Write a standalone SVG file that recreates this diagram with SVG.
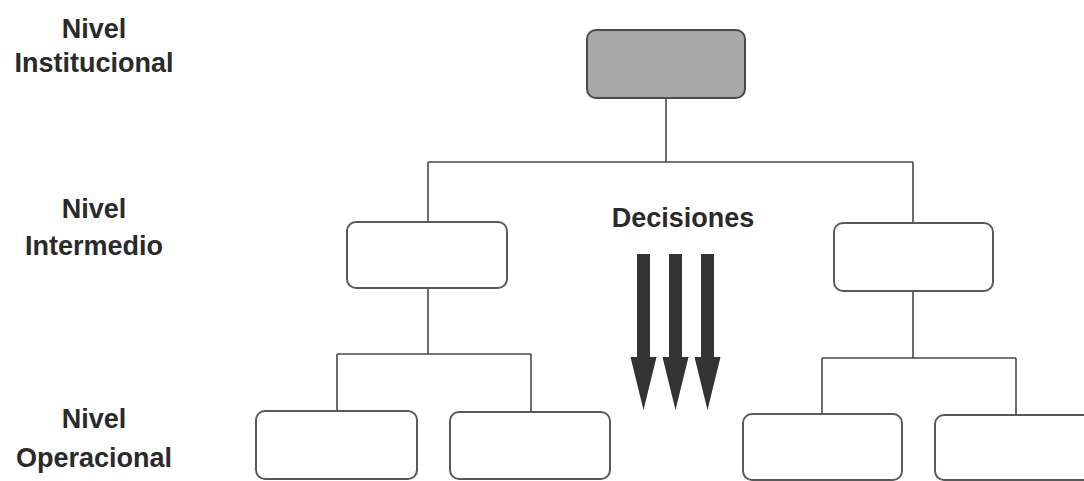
<svg xmlns="http://www.w3.org/2000/svg" width="1084" height="481" viewBox="0 0 1084 481">
  <style>
    .lbl { font-family: "Liberation Sans", Arial, sans-serif; font-weight: bold; font-size: 27px; fill: #2a2a2a; text-anchor: middle; }
    .box { fill: #ffffff; stroke: #5a5a5a; stroke-width: 2; }
    .top { fill: #a9a9a9; stroke: #4a4a4a; stroke-width: 2; }
    .wire { fill: none; stroke: #4a4a4a; stroke-width: 1.6; }
    .arrow { fill: #333333; }
  </style>
  <defs>
    <path id="downArrow" d="M -6.5 0 H 6.5 V 103 H 13 L 0 156 L -13 103 H -6.5 Z"/>
  </defs>
  <rect width="1084" height="481" fill="#ffffff"/>

  <!-- level labels -->
  <g id="level-labels">
    <text class="lbl" x="94" y="38">Nivel</text>
    <text class="lbl" x="94" y="72">Institucional</text>
    <text class="lbl" x="94" y="218">Nivel</text>
    <text class="lbl" x="94" y="255">Intermedio</text>
    <text class="lbl" x="94" y="428">Nivel</text>
    <text class="lbl" x="94" y="467">Operacional</text>
  </g>

  <!-- connectors -->
  <g id="connectors" class="wire">
    <path d="M 666 98 V 162 M 428 162 H 913 M 428 162 V 222 M 913 162 V 223"/>
    <path d="M 428 288 V 354 M 337 354 H 531 M 337 354 V 411 M 531 354 V 412"/>
    <path d="M 913 291 V 358 M 822 358 H 1016 M 822 358 V 414 M 1016 358 V 415"/>
  </g>

  <g id="node-top"><rect class="top" x="587" y="30" width="158" height="68" rx="9"/></g>
  <g id="node-mid-left"><rect class="box" x="347" y="222" width="160" height="66" rx="9"/></g>
  <g id="node-mid-right"><rect class="box" x="834" y="223" width="159" height="68" rx="9"/></g>
  <g id="node-op-1"><rect class="box" x="256" y="411" width="161" height="68" rx="9"/></g>
  <g id="node-op-2"><rect class="box" x="450" y="412" width="160" height="67" rx="9"/></g>
  <g id="node-op-3"><rect class="box" x="743" y="414" width="159" height="66" rx="9"/></g>
  <g id="node-op-4"><rect class="box" x="935" y="415" width="170" height="65" rx="9"/></g>

  <!-- decision flow -->
  <g id="decisiones">
    <text class="lbl" x="683" y="227" font-size="28">Decisiones</text>
    <use href="#downArrow" class="arrow" x="643.5" y="254"/>
    <use href="#downArrow" class="arrow" x="675.5" y="254"/>
    <use href="#downArrow" class="arrow" x="707.5" y="254"/>
  </g>
</svg>
